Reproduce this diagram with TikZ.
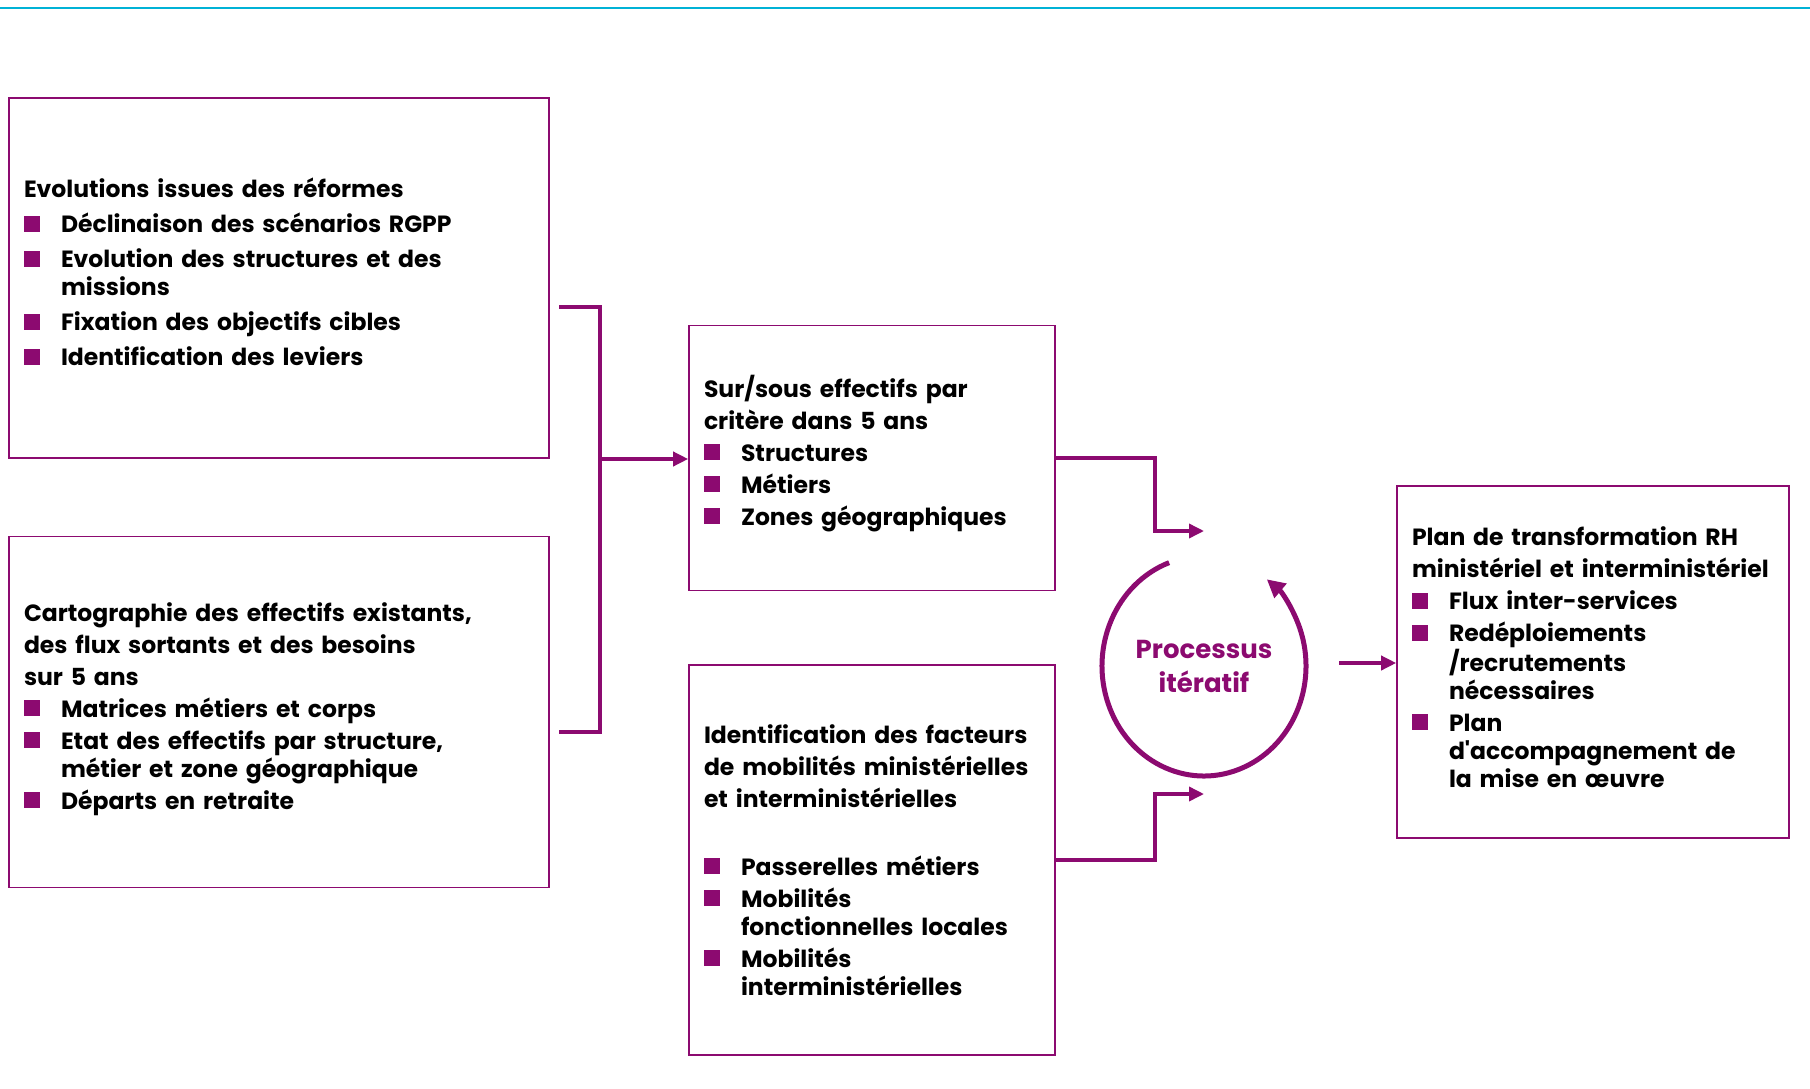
\documentclass[tikz,border=0pt]{standalone}
\usepackage{fontspec}
\setmainfont{Poppins}
\usepackage{xcolor}
\usetikzlibrary{arrows.meta,positioning,calc}

\definecolor{prune}{RGB}{140,10,112}
\definecolor{cyanbar}{RGB}{0,178,214}

% bullet item with hanging indent
\newcommand{\puce}[1]{\par\hangindent=37pt\hangafter=1\noindent\makebox[37pt][l]{\textcolor{prune}{\raisebox{1pt}{\rule{16pt}{16pt}}}}#1\par}
% empty strip under the text, to lift it a little
\newcommand{\cale}[1]{\par\nointerlineskip\hbox{\rule{0pt}{#1}}}

\begin{document}
\begin{tikzpicture}[x=1pt, y=-1pt,
        box/.style={rectangle, draw=prune, line width=1.6pt, inner xsep=15pt, align=left, font=\fontsize{23.5}{28}\selectfont\bfseries, execute at begin node={\setlength{\parskip}{4pt}}},
        link/.style={draw=prune, line width=3.5pt},
        arrow/.style={-{Triangle[length=15pt,width=14pt]}, draw=prune, line width=3.5pt},
        loop/.style={-{Triangle[length=18pt,width=18pt]}, draw=prune, line width=5pt}
    ]
    \useasboundingbox (0,0) rectangle (1810,1089);

    % Bar at top
    \draw[cyanbar, line width=2.5pt] (0,8) -- (1810,8);

    % Inputs on the left
    \node[box, minimum width=540pt, minimum height=360pt, text width=510pt] (evol) at (279,278) {\setlength{\parskip}{7pt}%
        Evolutions issues des réformes
        \puce{Déclinaison des scénarios RGPP}
        \puce{Evolution des structures et des\newline missions}
        \puce{Fixation des objectifs cibles}
        \puce{Identification des leviers}\cale{12pt}};

    \node[box, minimum width=540pt, minimum height=351pt, text width=510pt] (carto) at (279,712) {%
        Cartographie des effectifs existants,\par
        des flux sortants et des besoins\par
        sur 5 ans
        \puce{Matrices métiers et corps}
        \puce{Etat des effectifs par structure,\newline métier et zone géographique}
        \puce{Départs en retraite}\cale{6pt}};

    % Middle boxes
    \node[box, minimum width=366pt, minimum height=265pt, text width=336pt] (ecart) at (872,458) {%
        Sur/sous effectifs par\par
        critère dans 5 ans
        \puce{Structures}
        \puce{Métiers}
        \puce{Zones géographiques}\cale{9pt}};

    \node[box, minimum width=366pt, minimum height=390pt, text width=336pt] (mobil) at (872,860) {%
        Identification des facteurs\par
        de mobilités ministérielles\par
        et interministérielles\par\vspace{36pt}
        \puce{Passerelles métiers}
        \puce{Mobilités\newline fonctionnelles locales}
        \puce{Mobilités\newline interministérielles}};

    % Result on the right
    \node[box, minimum width=392pt, minimum height=352pt, text width=362pt] (plan) at (1593,662) {%
        Plan de transformation RH\par
        ministériel et interministériel
        \puce{Flux inter-services}
        \puce{Redéploiements\newline /recrutements\newline nécessaires}
        \puce{Plan\newline d\textquotesingle accompagnement de\newline la mise en œuvre}\cale{10pt}};

    % Iterative loop
    \node[font=\fontsize{26}{34}\selectfont\bfseries, text=prune, align=center] (iter) at (1204,666) {Processus\\itératif};
    \draw[loop] ([shift={(110:102pt and 110pt)}]iter.center) arc[start angle=110, end angle=412, x radius=102pt, y radius=110pt];

    % Bracket joining the two inputs
    \coordinate (b1) at (559,307);
    \coordinate (b2) at (559,732);
    \coordinate (jn) at (600,459);
    \draw[link] (b1) -| (jn) |- (b2);
    \draw[arrow] (jn) -- (jn -| ecart.west);

    % Into the loop
    \coordinate (in1) at (1204,531);
    \coordinate (in2) at (1204,794);
    \draw[arrow] (ecart.east) -- ++(99,0) |- (in1);
    \draw[arrow] (mobil.east) -- ++(99,0) |- (in2);

    % Out of the loop
    \coordinate (out) at (1339,663);
    \draw[arrow] (out) -- (out -| plan.west);

\end{tikzpicture}
\end{document}
